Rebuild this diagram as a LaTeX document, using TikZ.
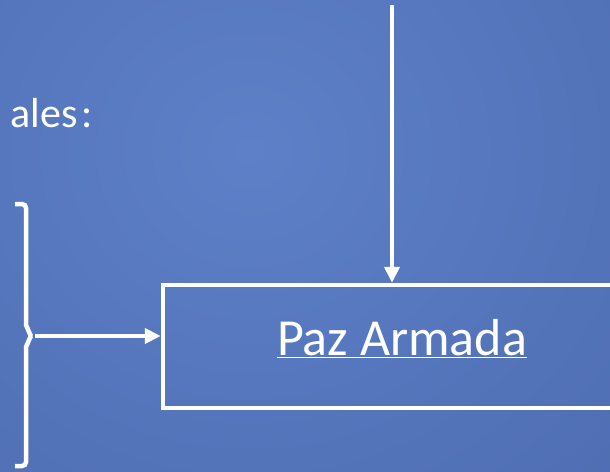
\documentclass[tikz,border=0pt]{standalone}
\usepackage{fontspec}
\setmainfont{Carlito}
\usetikzlibrary{arrows.meta,positioning}

\definecolor{slidelight}{RGB}{93,128,200}
\definecolor{slidedark}{RGB}{74,103,170}

\begin{document}
\begin{tikzpicture}[x=1pt,y=-1pt,
    wire/.style={white,line width=4.5pt},
    arrowwire/.style={wire,-{Triangle[length=16pt,width=15pt]}},
    framebox/.style={draw=white,line width=4.5pt,minimum width=478pt,minimum height=123pt,inner sep=0pt},
    slidetext/.style={text=white,inner sep=0pt}]
    \useasboundingbox (0,0) rectangle (610,471);
    \shade[inner color=slidelight,outer color=slidedark] (-450,-500) rectangle (950,800);

    \node[slidetext,anchor=base east,font=\fontsize{42}{50}\selectfont] (heading) at (93,127) {ales\kern4pt:};

    \node[framebox] (paz) at (402,346.5) {};
    \node[slidetext,anchor=base,font=\fontsize{52}{62}\selectfont] (pazlabel) at (402,355) {\underline{Paz Armada}};

    % llave
    \coordinate (bracetip) at (35,336);
    \draw[wire,rounded corners=4pt] (15,204) -| (26,329) to[out=90,in=180] (bracetip)
        to[out=180,in=-90] (26,343) |- (15,466);

    \coordinate (topend) at (392,5);
    \draw[arrowwire] (topend) -- (topend |- paz.north);
    \draw[arrowwire] (bracetip) -- (bracetip -| paz.west);
\end{tikzpicture}
\end{document}
